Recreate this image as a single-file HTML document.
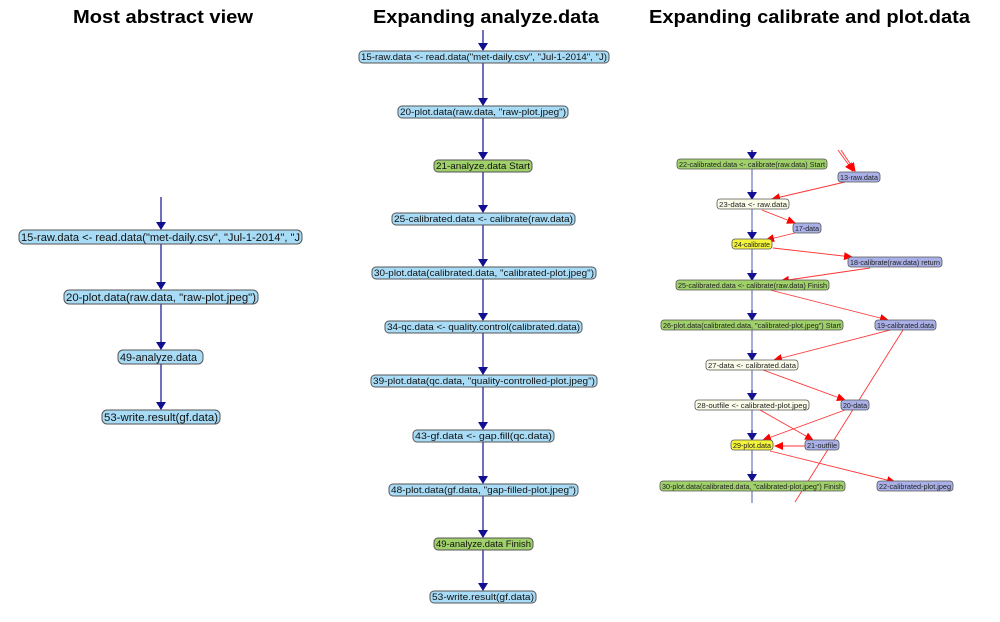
<!DOCTYPE html>
<html><head><meta charset="utf-8"><style>html,body{margin:0;padding:0;background:#fff}svg{display:block}</style></head><body>
<svg width="1000" height="622" viewBox="0 0 1000 622" xmlns="http://www.w3.org/2000/svg" font-family="Liberation Sans, sans-serif">
<defs>
<marker id="b" markerWidth="8" markerHeight="10" refX="7" refY="5" orient="auto" markerUnits="userSpaceOnUse"><path d="M0,0 L8,5 L0,10 z" fill="#101090"/></marker>
<marker id="r" markerWidth="9" markerHeight="8" refX="8" refY="4" orient="auto" markerUnits="userSpaceOnUse"><path d="M0,0 L9,4 L0,8 z" fill="#f00"/></marker>
</defs>
<g font-weight="bold" font-size="18" fill="#000">
<text x="73" y="23" textLength="180" lengthAdjust="spacingAndGlyphs">Most abstract view</text>
<text x="373" y="23" textLength="226" lengthAdjust="spacingAndGlyphs">Expanding analyze.data</text>
<text x="649" y="23" textLength="321" lengthAdjust="spacingAndGlyphs">Expanding calibrate and plot.data</text>
</g>
<!-- left -->
<g stroke="#101090" stroke-width="1.2" marker-end="url(#b)">
<line x1="161" y1="197" x2="161" y2="229"/>
<line x1="161" y1="244" x2="161" y2="289"/>
<line x1="161" y1="304" x2="161" y2="349"/>
<line x1="161" y1="364" x2="161" y2="409"/>
</g>
<g font-size="11" stroke="#555" stroke-width="1">
<rect x="19" y="230" width="283" height="14" rx="5" fill="#a8dcf6"/>
<rect x="64" y="290" width="194" height="14" rx="5" fill="#a8dcf6"/>
<rect x="118" y="350" width="85" height="14" rx="5" fill="#a8dcf6"/>
<rect x="102" y="410" width="118" height="14" rx="5" fill="#a8dcf6"/>
</g>
<g font-size="11" fill="#111">
<text x="21" y="241" textLength="279" lengthAdjust="spacingAndGlyphs">15-raw.data &lt;- read.data("met-daily.csv", "Jul-1-2014", "J</text>
<text x="66" y="301" textLength="190" lengthAdjust="spacingAndGlyphs">20-plot.data(raw.data, "raw-plot.jpeg")</text>
<text x="120" y="361" textLength="77" lengthAdjust="spacingAndGlyphs">49-analyze.data</text>
<text x="104" y="421" textLength="114" lengthAdjust="spacingAndGlyphs">53-write.result(gf.data)</text>
</g>
<!-- middle -->
<g stroke="#101090" stroke-width="1.2" marker-end="url(#b)">
<line x1="483" y1="30" x2="483" y2="50"/>
<line x1="483" y1="63" x2="483" y2="105"/>
<line x1="483" y1="118" x2="483" y2="159"/>
<line x1="483" y1="172" x2="483" y2="212"/>
<line x1="483" y1="225" x2="483" y2="266"/>
<line x1="483" y1="279" x2="483" y2="320"/>
<line x1="483" y1="333" x2="483" y2="374"/>
<line x1="483" y1="387" x2="483" y2="429"/>
<line x1="483" y1="442" x2="483" y2="483"/>
<line x1="483" y1="496" x2="483" y2="537"/>
<line x1="483" y1="550" x2="483" y2="590"/>
</g>
<g stroke="#555" stroke-width="1">
<rect x="359" y="51" width="250" height="12" rx="4" fill="#a8dcf6"/>
<rect x="398" y="106" width="170" height="12" rx="4" fill="#a8dcf6"/>
<rect x="434" y="160" width="98" height="12" rx="4" fill="#9fd06a"/>
<rect x="392" y="213" width="183" height="12" rx="4" fill="#a8dcf6"/>
<rect x="372" y="267" width="224" height="12" rx="4" fill="#a8dcf6"/>
<rect x="385" y="321" width="197" height="12" rx="4" fill="#a8dcf6"/>
<rect x="371" y="375" width="226" height="12" rx="4" fill="#a8dcf6"/>
<rect x="413" y="430" width="141" height="12" rx="4" fill="#a8dcf6"/>
<rect x="389" y="484" width="189" height="12" rx="4" fill="#a8dcf6"/>
<rect x="434" y="538" width="99" height="12" rx="4" fill="#9fd06a"/>
<rect x="430" y="591" width="106" height="12" rx="4" fill="#a8dcf6"/>
</g>
<g font-size="9.5" fill="#111" lengthAdjust="spacingAndGlyphs">
<text x="361" y="60" textLength="246" lengthAdjust="spacingAndGlyphs">15-raw.data &lt;- read.data("met-daily.csv", "Jul-1-2014", "J)</text>
<text x="400" y="115" textLength="166" lengthAdjust="spacingAndGlyphs">20-plot.data(raw.data, "raw-plot.jpeg")</text>
<text x="436" y="169" textLength="94" lengthAdjust="spacingAndGlyphs">21-analyze.data Start</text>
<text x="394" y="222" textLength="179" lengthAdjust="spacingAndGlyphs">25-calibrated.data &lt;- calibrate(raw.data)</text>
<text x="374" y="276" textLength="220" lengthAdjust="spacingAndGlyphs">30-plot.data(calibrated.data, "calibrated-plot.jpeg")</text>
<text x="387" y="330" textLength="193" lengthAdjust="spacingAndGlyphs">34-qc.data &lt;- quality.control(calibrated.data)</text>
<text x="373" y="384" textLength="222" lengthAdjust="spacingAndGlyphs">39-plot.data(qc.data, "quality-controlled-plot.jpeg")</text>
<text x="415" y="439" textLength="137" lengthAdjust="spacingAndGlyphs">43-gf.data &lt;- gap.fill(qc.data)</text>
<text x="391" y="493" textLength="185" lengthAdjust="spacingAndGlyphs">48-plot.data(gf.data, "gap-filled-plot.jpeg")</text>
<text x="436" y="547" textLength="95" lengthAdjust="spacingAndGlyphs">49-analyze.data Finish</text>
<text x="432" y="600" textLength="102" lengthAdjust="spacingAndGlyphs">53-write.result(gf.data)</text>
</g>
<!-- right -->
<line x1="752" y1="150" x2="752" y2="503" stroke="#a8acd8" stroke-width="2"/>
<g stroke="#101090" stroke-width="0" marker-end="url(#b)">
<line x1="752" y1="150" x2="752" y2="159" stroke-width="1"/>
<line x1="752" y1="190" x2="752" y2="199" stroke-width="1"/>
<line x1="752" y1="230" x2="752" y2="239" stroke-width="1"/>
<line x1="752" y1="270" x2="752" y2="280" stroke-width="1"/>
<line x1="752" y1="310" x2="752" y2="320" stroke-width="1"/>
<line x1="752" y1="350" x2="752" y2="360" stroke-width="1"/>
<line x1="752" y1="390" x2="752" y2="400" stroke-width="1"/>
<line x1="752" y1="430" x2="752" y2="440" stroke-width="1"/>
<line x1="752" y1="471" x2="752" y2="481" stroke-width="1"/>
</g>
<g stroke="#f33" stroke-width="0.9" fill="none" marker-end="url(#r)">
<line x1="838" y1="150" x2="853" y2="171"/>
<line x1="841" y1="150" x2="855" y2="171"/>
<line x1="845" y1="182" x2="772" y2="199"/>
<line x1="762" y1="210" x2="795" y2="223"/>
<line x1="795" y1="233" x2="766" y2="240"/>
<line x1="773" y1="248" x2="852" y2="257"/>
<line x1="870" y1="268" x2="781" y2="281"/>
<line x1="770" y1="290" x2="888" y2="320"/>
<line x1="890" y1="330" x2="774" y2="360"/>
<line x1="763" y1="370" x2="845" y2="400"/>
<line x1="760" y1="410" x2="813" y2="440"/>
<line x1="845" y1="410" x2="763" y2="440"/>
<line x1="805" y1="446" x2="775" y2="446"/>
<line x1="770" y1="451" x2="895" y2="482"/>
</g>
<line x1="903" y1="330" x2="795" y2="502" stroke="#f33" stroke-width="0.9"/>
<g stroke="#555" stroke-width="0.8">
<rect x="677" y="159" width="150" height="10" rx="3" fill="#9fd06a"/>
<rect x="838" y="172" width="42" height="10" rx="3" fill="#a9b0e8"/>
<rect x="717" y="199" width="72" height="10" rx="3" fill="#fbfbea"/>
<rect x="793" y="223" width="28" height="10" rx="3" fill="#a9b0e8"/>
<rect x="732" y="239" width="40" height="10" rx="3" fill="#f4f43a"/>
<rect x="848" y="257" width="94" height="10" rx="3" fill="#a9b0e8"/>
<rect x="676" y="280" width="153" height="10" rx="3" fill="#9fd06a"/>
<rect x="661" y="320" width="182" height="10" rx="3" fill="#9fd06a"/>
<rect x="875" y="320" width="61" height="10" rx="3" fill="#a9b0e8"/>
<rect x="706" y="360" width="92" height="10" rx="3" fill="#fbfbea"/>
<rect x="695" y="400" width="114" height="10" rx="3" fill="#fbfbea"/>
<rect x="841" y="400" width="28" height="10" rx="3" fill="#a9b0e8"/>
<rect x="731" y="440" width="42" height="10" rx="3" fill="#f4f43a"/>
<rect x="805" y="440" width="34" height="10" rx="3" fill="#a9b0e8"/>
<rect x="660" y="481" width="185" height="10" rx="3" fill="#9fd06a"/>
<rect x="877" y="481" width="76" height="10" rx="3" fill="#a9b0e8"/>
</g>
<g font-size="7.5" fill="#222">
<text x="679" y="167" textLength="146" lengthAdjust="spacingAndGlyphs">22-calibrated.data &lt;- calibrate(raw.data) Start</text>
<text x="840" y="180" textLength="38" lengthAdjust="spacingAndGlyphs">13-raw.data</text>
<text x="719" y="207" textLength="68" lengthAdjust="spacingAndGlyphs">23-data  &lt;-  raw.data</text>
<text x="795" y="231" textLength="24" lengthAdjust="spacingAndGlyphs">17-data</text>
<text x="734" y="247" textLength="36" lengthAdjust="spacingAndGlyphs">24-calibrate</text>
<text x="850" y="265" textLength="90" lengthAdjust="spacingAndGlyphs">18-calibrate(raw.data) return</text>
<text x="678" y="288" textLength="149" lengthAdjust="spacingAndGlyphs">25-calibrated.data &lt;- calibrate(raw.data) Finish</text>
<text x="663" y="328" textLength="178" lengthAdjust="spacingAndGlyphs">26-plot.data(calibrated.data, "calibrated-plot.jpeg") Start</text>
<text x="877" y="328" textLength="57" lengthAdjust="spacingAndGlyphs">19-calibrated.data</text>
<text x="708" y="368" textLength="88" lengthAdjust="spacingAndGlyphs">27-data  &lt;-  calibrated.data</text>
<text x="697" y="408" textLength="110" lengthAdjust="spacingAndGlyphs">28-outfile  &lt;-  calibrated-plot.jpeg</text>
<text x="843" y="408" textLength="24" lengthAdjust="spacingAndGlyphs">20-data</text>
<text x="733" y="448" textLength="38" lengthAdjust="spacingAndGlyphs">29-plot.data</text>
<text x="807" y="448" textLength="30" lengthAdjust="spacingAndGlyphs">21-outfile</text>
<text x="662" y="489" textLength="181" lengthAdjust="spacingAndGlyphs">30-plot.data(calibrated.data, "calibrated-plot.jpeg") Finish</text>
<text x="879" y="489" textLength="72" lengthAdjust="spacingAndGlyphs">22-calibrated-plot.jpeg</text>
</g>
</svg>
</body></html>
